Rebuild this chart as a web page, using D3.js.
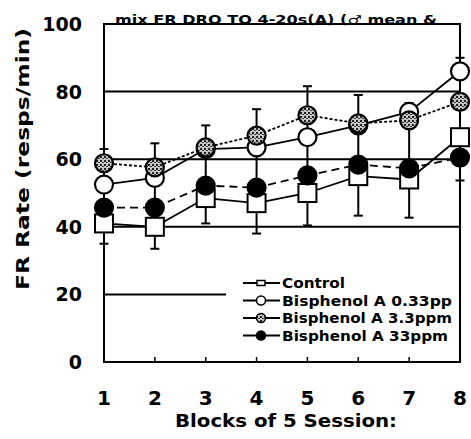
<!DOCTYPE html>
<meta charset="utf-8">
<script src="https://d3js.org/d3.v7.min.js"></script>
<style>
  body { margin: 0; background: #fff; }
  text { font-family: "DejaVu Sans", sans-serif; font-weight: bold; fill: #000; }
</style>
<div id="chart"></div>
<script>

// blocks of 5 sessions
const blocks = [1, 2, 3, 4, 5, 6, 7, 8];

// mean FR rate per group (resps/min)
const control = [41, 40, 48.5, 47, 50, 55, 54, 66.5];
const bpa033 = [52.5, 54.5, 63, 63.5, 66.5, 70, 74, 86];
const bpa33 = [58.8, 57.6, 63.5, 67, 73, 70.6, 71.5, 77];
const bpa330 = [45.7, 45.7, 52.2, 51.6, 55.2, 58.4, 57.3, 60.5];

// outer ends of the error bars at each block
const errHigh = [63, 64.7, 70, 74.8, 81.6, 79, 76.6, 90];
const errLow = [35, 33.5, 41, 38, 40.4, 43.3, 42.7, 53.7];

const yTicks = [0, 20, 40, 60, 80, 100];
const gridValues = [40, 60, 80];
const legendLabels = ["Control", "Bisphenol A 0.33pp", "Bisphenol A 3.3ppm", "Bisphenol A 33ppm"];
const title = "mix FR DRO TO 4-20s(A) (\u2642 mean &";

const width = 471, height = 439;
const margin = {top: 24, right: 10, bottom: 77, left: 104};

const svg = d3.select("#chart").append("svg")
    .attr("width", width)
    .attr("height", height);

svg.append("rect").attr("width", width).attr("height", height).attr("fill", "#fff");

// speckled grey fill for the 3.3 ppm group
const defs = svg.append("defs");
const pat = defs.append("pattern")
    .attr("id", "speckle")
    .attr("patternUnits", "userSpaceOnUse")
    .attr("width", 4).attr("height", 4);
pat.append("rect").attr("width", 4).attr("height", 4).attr("fill", "#c4c4c4");
pat.append("rect").attr("x", 0).attr("y", 0).attr("width", 2).attr("height", 2).attr("fill", "#222");
pat.append("rect").attr("x", 2).attr("y", 2).attr("width", 2).attr("height", 1).attr("fill", "#444");

const x = d3.scaleLinear().domain([1, 8]).range([margin.left, width - margin.right - 1]);
const y = d3.scaleLinear().domain([0, 100]).range([height - margin.bottom, margin.top]);

// frame
svg.append("rect")
    .attr("x", x(1)).attr("y", y(100))
    .attr("width", x(8) - x(1)).attr("height", y(0) - y(100))
    .attr("fill", "none").attr("stroke", "#000").attr("stroke-width", 2);

// horizontal rules
svg.selectAll(".grid")
    .data(gridValues)
    .join("line")
    .attr("x1", x(1)).attr("x2", x(8))
    .attr("y1", d => y(d)).attr("y2", d => y(d))
    .attr("stroke", "#000").attr("stroke-width", 2);

// short rule at 20
svg.append("line")
    .attr("x1", x(1)).attr("x2", x(3.4))
    .attr("y1", y(20)).attr("y2", y(20))
    .attr("stroke", "#000").attr("stroke-width", 2);

// small ticks on the bottom axis
svg.selectAll(".xtick")
    .data(blocks.slice(1, 7))
    .join("line")
    .attr("x1", d => x(d)).attr("x2", d => x(d))
    .attr("y1", y(0)).attr("y2", y(0) - 5)
    .attr("stroke", "#000").attr("stroke-width", 1.5);

// y tick labels
svg.selectAll(".ylab")
    .data(yTicks)
    .join("text")
    .attr("x", 82)
    .attr("y", d => y(d) + 7)
    .attr("text-anchor", "end")
    .style("font-size", "19px")
    .text(d => d);

// x tick labels
svg.selectAll(".xlab")
    .data(blocks)
    .join("text")
    .attr("x", d => x(d))
    .attr("y", 405)
    .attr("text-anchor", "middle")
    .style("font-size", "20px")
    .text(d => d);

// axis titles
svg.append("text")
    .attr("x", 175).attr("y", 427)
    .attr("textLength", 222).attr("lengthAdjust", "spacingAndGlyphs")
    .style("font-size", "17px")
    .text("Blocks of 5 Session:");

svg.append("text")
    .attr("transform", "translate(29,290) rotate(-90)")
    .attr("textLength", 262).attr("lengthAdjust", "spacingAndGlyphs")
    .style("font-size", "18px")
    .text("FR Rate (resps/min)");

svg.append("text")
    .attr("x", 115).attr("y", 24)
    .attr("textLength", 322).attr("lengthAdjust", "spacingAndGlyphs")
    .style("font-size", "12px")
    .text(title);

// error bars
const cap = 4.5;
blocks.forEach((b, i) => {
    const g = svg.append("g").attr("stroke", "#000").attr("stroke-width", 2);
    g.append("line").attr("x1", x(b)).attr("x2", x(b)).attr("y1", y(errLow[i])).attr("y2", y(errHigh[i]));
    g.append("line").attr("x1", x(b) - cap).attr("x2", x(b) + cap).attr("y1", y(errLow[i])).attr("y2", y(errLow[i]));
    g.append("line").attr("x1", x(b) - cap).attr("x2", x(b) + cap).attr("y1", y(errHigh[i])).attr("y2", y(errHigh[i]));
});

const series = [
    {values: control, shape: "square", fill: "#fff", dash: null},
    {values: bpa330, shape: "circle", fill: "#000", dash: "8,5"},
    {values: bpa033, shape: "circle", fill: "#fff", dash: null},
    {values: bpa33, shape: "circle", fill: "url(#speckle)", dash: "3,2"}
];

const line = d3.line().x((d, i) => x(blocks[i])).y(d => y(d));

series.forEach(s => {
    svg.append("path")
        .datum(s.values)
        .attr("d", line)
        .attr("fill", "none")
        .attr("stroke", "#000")
        .attr("stroke-width", 1.8)
        .attr("stroke-dasharray", s.dash);
});

const r = 9;
series.forEach(s => {
    const g = svg.append("g");
    if (s.shape === "square") {
        g.selectAll("rect")
            .data(s.values)
            .join("rect")
            .attr("x", (d, i) => x(blocks[i]) - r)
            .attr("y", d => y(d) - r)
            .attr("width", 2 * r).attr("height", 2 * r)
            .attr("fill", s.fill).attr("stroke", "#000").attr("stroke-width", 2);
    } else {
        g.selectAll("circle")
            .data(s.values)
            .join("circle")
            .attr("cx", (d, i) => x(blocks[i]))
            .attr("cy", d => y(d))
            .attr("r", r)
            .attr("fill", s.fill).attr("stroke", "#000").attr("stroke-width", 2.2);
    }
});

// legend
const legend = svg.append("g");
const legendLengths = [63, 170, 170, 166];
legendLabels.forEach((lab, i) => {
    const ly = 283 + i * 17.5;
    legend.append("line")
        .attr("x1", 243).attr("x2", 280).attr("y1", ly).attr("y2", ly)
        .attr("stroke", "#000").attr("stroke-width", 2);
    if (i === 0) {
        legend.append("rect").attr("x", 257).attr("y", ly - 2.5).attr("width", 8).attr("height", 5)
            .attr("fill", "#fff").attr("stroke", "#000").attr("stroke-width", 1.5);
    } else {
        legend.append("circle").attr("cx", 261).attr("cy", ly).attr("r", 4.5)
            .attr("fill", series[[0, 2, 3, 1][i]].fill).attr("stroke", "#000").attr("stroke-width", 1.5);
    }
    legend.append("text")
        .attr("x", 282).attr("y", ly + 5)
        .attr("textLength", legendLengths[i]).attr("lengthAdjust", "spacingAndGlyphs")
        .style("font-size", "14px")
        .text(lab);
});

</script>
